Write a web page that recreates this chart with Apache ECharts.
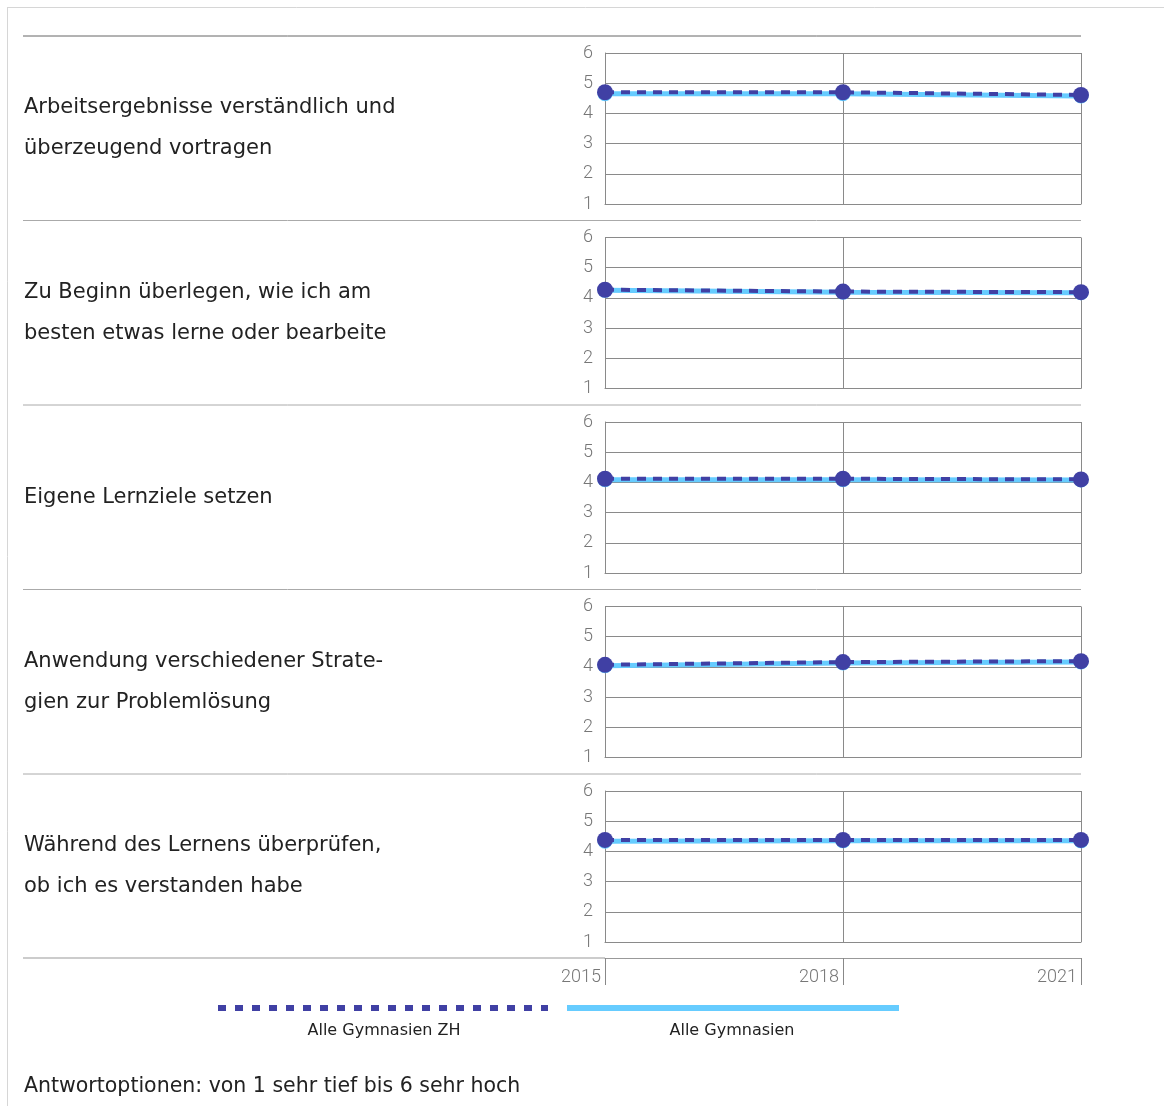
<!DOCTYPE html>
<html><head><meta charset="utf-8">
<script src="https://cdn.jsdelivr.net/npm/echarts@6/dist/echarts.min.js"></script>
<style>html,body{margin:0;padding:0;background:#fff}#c{width:1164px;height:1106px}</style>
</head><body><div id="c"></div>
<script>
const years = ['2015', '2018', '2021'];
const items = [
  'Arbeitsergebnisse verständlich und\nüberzeugend vortragen',
  'Zu Beginn überlegen, wie ich am\nbesten etwas lerne oder bearbeite',
  'Eigene Lernziele setzen',
  'Anwendung verschiedener Strate-\ngien zur Problemlösung',
  'Während des Lernens überprüfen,\nob ich es verstanden habe'
];
const seriesNames = ['Alle Gymnasien ZH', 'Alle Gymnasien'];
const zhValues = [
  [4.70, 4.70, 4.61],
  [4.27, 4.21, 4.19],
  [4.12, 4.12, 4.10],
  [4.07, 4.16, 4.19],
  [4.38, 4.38, 4.38]
];
const allValues = [
  [4.65, 4.65, 4.58],
  [4.25, 4.19, 4.17],
  [4.09, 4.09, 4.08],
  [4.04, 4.13, 4.16],
  [4.34, 4.35, 4.35]
];
const yTicks = [1, 6, 1]; // min, max, interval
const footnote = 'Antwortoptionen: von 1 sehr tief bis 6 sehr hoch';

const FONT = 'Roboto';
const TFONT = '"DejaVu Sans"';
const DARK = '#4040a4';
const LIGHT = '#66ccff';
const GRIDC = '#8a8a8a';
const left = 605, right = 83, h = 151, step = 184.5, top0 = 53;

const grids = [], xAxes = [], yAxes = [], series = [], graphics = [];
items.forEach((name, i) => {
  const top = top0 + i * step;
  grids.push({left, right, top, height: h});
  xAxes.push({
    type: 'category', data: years, gridIndex: i, boundaryGap: false,
    axisLine: {show: true, lineStyle: {color: GRIDC, width: 1}},
    axisTick: {show: false}, axisLabel: {show: false},
    splitLine: {show: true, lineStyle: {color: GRIDC, width: 1}}
  });
  yAxes.push({
    type: 'value', gridIndex: i, min: yTicks[0], max: yTicks[1], interval: yTicks[2],
    axisLine: {show: true, lineStyle: {color: GRIDC, width: 1}},
    axisTick: {show: false},
    axisLabel: {color: '#777', fontFamily: FONT, fontSize: 18, fontWeight: 300, margin: 12, padding: [2, 0, 0, 0]},
    splitLine: {show: true, lineStyle: {color: GRIDC, width: 1}}
  });
  series.push({
    name: seriesNames[1], type: 'line', xAxisIndex: i, yAxisIndex: i,
    data: allValues[i], symbol: 'circle', symbolSize: 15,
    itemStyle: {color: LIGHT}, lineStyle: {color: LIGHT, width: 5}, z: 2, animation: false
  });
  series.push({
    name: seriesNames[0], type: 'line', xAxisIndex: i, yAxisIndex: i,
    data: zhValues[i], symbol: 'circle', symbolSize: 16,
    itemStyle: {color: DARK}, lineStyle: {color: DARK, width: 4, type: [9, 7]}, z: 3, animation: false
  });
  graphics.push({
    type: 'line', shape: {x1: 23, y1: top - 17, x2: 1081, y2: top - 17},
    style: {stroke: i === 0 ? '#666' : '#aaa', lineWidth: 1}, silent: true
  });
  graphics.push({
    type: 'text', x: 24, y: top + h / 2,
    style: {text: name, font: '21px ' + TFONT, fill: '#222', lineHeight: 41, verticalAlign: 'middle', textAlign: 'left'}
  });
});
// bottom year axis
const bi = items.length;
const bottomTop = top0 + (bi - 1) * step + h + 16;
grids.push({left, right, top: bottomTop - 1, height: 1});
xAxes.push({
  type: 'category', data: years, gridIndex: bi, boundaryGap: false,
  axisLine: {show: true, lineStyle: {color: '#999', width: 1}},
  axisTick: {show: true, length: 27, alignWithLabel: true, interval: 0, lineStyle: {color: '#888'}},
  axisLabel: {show: true, interval: 0, align: 'right', padding: [0, 4, 0, 0], margin: 10,
    color: '#777', fontFamily: FONT, fontSize: 18, fontWeight: 300},
  splitLine: {show: false}
});
yAxes.push({type: 'value', gridIndex: bi, show: false, min: 0, max: 1});
graphics.push({
  type: 'line', shape: {x1: 23, y1: bottomTop, x2: 605, y2: bottomTop},
  style: {stroke: '#999', lineWidth: 1}, silent: true
});
// frame
graphics.push({type: 'line', shape: {x1: 7, y1: 7.5, x2: 1164, y2: 7.5}, style: {stroke: '#d6d6d6', lineWidth: 1}});
graphics.push({type: 'line', shape: {x1: 7.5, y1: 7, x2: 7.5, y2: 1106}, style: {stroke: '#d6d6d6', lineWidth: 1}});
// legend
graphics.push({type: 'line', shape: {x1: 218, y1: 1008, x2: 548, y2: 1008},
  style: {stroke: DARK, lineWidth: 6, lineDash: [8, 9]}});
graphics.push({type: 'line', shape: {x1: 567, y1: 1008, x2: 899, y2: 1008},
  style: {stroke: LIGHT, lineWidth: 6}});
graphics.push({type: 'text', x: 384, y: 1031,
  style: {text: seriesNames[0], font: '16px ' + TFONT, fill: '#222', textAlign: 'center', verticalAlign: 'middle'}});
graphics.push({type: 'text', x: 732, y: 1031,
  style: {text: seriesNames[1], font: '16px ' + TFONT, fill: '#222', textAlign: 'center', verticalAlign: 'middle'}});
graphics.push({type: 'text', x: 24, y: 1087,
  style: {text: footnote, font: '20.5px ' + TFONT, fill: '#222', textAlign: 'left', verticalAlign: 'middle'}});

const chart = echarts.init(document.getElementById('c'), null, {renderer: 'canvas'});
chart.setOption({
  animation: false,
  backgroundColor: '#fff',
  grid: grids, xAxis: xAxes, yAxis: yAxes, series,
  graphic: graphics
});
</script></body></html>
